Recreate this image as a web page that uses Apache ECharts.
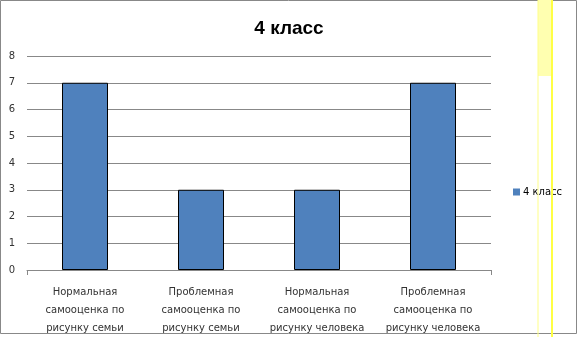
<!DOCTYPE html>
<html><head><meta charset="utf-8">
<script src="https://cdn.jsdelivr.net/npm/echarts@6/dist/echarts.min.js"></script>
<style>html,body{margin:0;padding:0;background:#fff}#c{width:578px;height:337px}</style>
</head><body><div id="c"></div>
<script>
const categories = [
  "Нормальная\nсамооценка по\nрисунку семьи",
  "Проблемная\nсамооценка по\nрисунку семьи",
  "Нормальная\nсамооценка по\nрисунку человека",
  "Проблемная\nсамооценка по\nрисунку человека"
];
const seriesName = "4 класс";
const values = [7, 3, 3, 7];
const titleText = "4 класс";

const chart = echarts.init(document.getElementById('c'), null, {renderer:'canvas'});
chart.setOption({
  animation: false,
  backgroundColor: '#fff',
  title: {text: titleText, left: 'center', top: 14,
    textStyle: {fontFamily: 'Liberation Sans, Arial', fontSize: 19, fontWeight: 'bold', color: '#000'}},
  legend: {data: [seriesName], left: 508, top: 182, itemWidth: 7, itemHeight: 7, itemGap: 4,
    icon: 'rect', itemStyle: {borderWidth: 0},
    textStyle: {fontFamily: 'DejaVu Sans', fontSize: 10, color: '#000', padding: [0,0,0,-2]}},
  grid: {left: 27, right: 87, top: 56, bottom: 67, containLabel: false},
  xAxis: [{type: 'category', data: categories,
    axisLine: {lineStyle: {color: '#888'}},
    axisTick: {show: false},
    axisLabel: {interval: 0, fontFamily: 'DejaVu Sans', fontSize: 10, color: '#333', lineHeight: 18, margin: 13}},
    {type: 'category', data: ['', ''], position: 'bottom', axisLine: {show: false},
     axisLabel: {show: false}, splitLine: {show: false},
     axisTick: {show: true, inside: false, length: 5, interval: 0, lineStyle: {color: '#888'},
       customValues: [1]}}],
  yAxis: {type: 'value', min: 0, max: 8, interval: 1,
    axisLine: {show: false}, axisTick: {show: false},
    splitLine: {lineStyle: {color: '#888'}},
    axisLabel: {fontFamily: 'DejaVu Sans', fontSize: 10, color: '#333', margin: 12}},
  series: [{name: seriesName, type: 'bar', data: values, barWidth: 46, xAxisIndex: 0,
    itemStyle: {color: '#4F81BD', borderColor: '#000', borderWidth: 1}}],
  graphic: [
    {type: 'rect', shape: {x: 0.5, y: 0.5, width: 576, height: 333}, style: {fill: 'none', stroke: '#888', lineWidth: 1}, z: 100},
    {type: 'rect', shape: {x: 538, y: 0, width: 15, height: 76}, style: {fill: '#ffffb0'}, z: 101},
    {type: 'line', shape: {x1: 538, y1: 0, x2: 538, y2: 337}, style: {stroke: '#ffff88', lineWidth: 1}, z: 101},
    {type: 'line', shape: {x1: 552, y1: 0, x2: 552, y2: 337}, style: {stroke: '#ffff44', lineWidth: 2}, z: 101}
  ]
});
</script></body></html>
